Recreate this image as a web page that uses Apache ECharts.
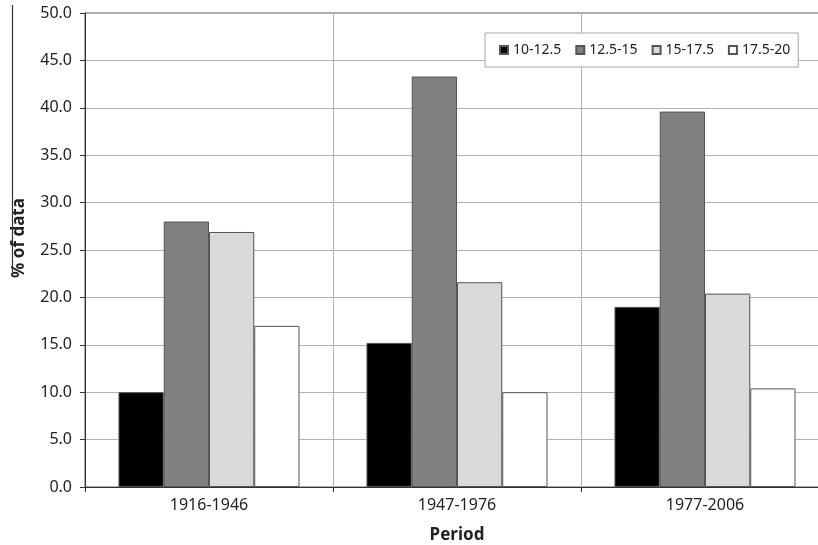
<!DOCTYPE html>
<html><head><meta charset="utf-8">
<script src="https://cdn.jsdelivr.net/npm/echarts@6/dist/echarts.min.js"></script>
<style>html,body{margin:0;padding:0;background:#fff;overflow:hidden}#c{width:818px;height:545px}</style>
</head><body><div id="c"></div>
<script>
const categories = ['1916-1946', '1947-1976', '1977-2006'];
const seriesNames = ['10-12.5', '12.5-15', '15-17.5', '17.5-20'];
const s1 = [10.0, 15.2, 19.0];
const s2 = [28.0, 43.3, 39.6];
const s3 = [26.9, 21.6, 20.4];
const s4 = [17.0, 10.0, 10.4];
const colors = ['#000000', '#808080', '#d9d9d9', '#ffffff'];
const FONT = 'Noto Sans';
const chart = echarts.init(document.getElementById('c'), null, { width: 818, height: 545 });
const values = [s1, s2, s3, s4];
chart.setOption({
  animation: false,
  textStyle: { fontFamily: FONT },
  grid: { left: 85, right: -11, top: 13, bottom: 58, show: true, borderColor: '#555', borderWidth: 1, containLabel: false, outerBoundsMode: 'none' },
  legend: {
    left: 485, top: 33, padding: [10, 8, 10, 14],
    backgroundColor: '#fff', borderColor: '#a6a6a6', borderWidth: 1,
    icon: 'rect', itemWidth: 8, itemHeight: 8, itemGap: 14,
    textStyle: { fontSize: 14, color: '#222', fontFamily: FONT },
    data: seriesNames
  },
  xAxis: {
    type: 'category', data: categories,
    name: 'Period', nameLocation: 'middle', nameGap: 40,
    nameTextStyle: { fontSize: 17, fontWeight: 'bold', color: '#222', fontFamily: FONT },
    axisLine: { lineStyle: { color: '#333', width: 1 } },
    axisTick: { show: true, length: 5, lineStyle: { color: '#333' } },
    axisLabel: { fontSize: 16, color: '#222', margin: 10, fontFamily: FONT },
    splitLine: { show: true, lineStyle: { color: '#b3b3b3', width: 1 } }
  },
  yAxis: {
    type: 'value', min: 0, max: 50, interval: 5,
    axisLine: { show: true, lineStyle: { color: '#333', width: 1 } },
    axisTick: { show: true, length: 5, lineStyle: { color: '#333' } },
    axisLabel: { fontSize: 16, color: '#222', margin: 13, fontFamily: FONT, formatter: v => v.toFixed(1) },
    splitLine: { show: true, lineStyle: { color: '#b3b3b3', width: 1 } }
  },
  graphic: [
    { type: 'text', x: 19, y: 238, rotation: Math.PI / 2,
      style: { text: '% of data', font: 'bold 17px "Noto Sans"', fill: '#222', align: 'center', verticalAlign: 'middle' } },
    { type: 'line', shape: { x1: 12.5, y1: 5, x2: 12.5, y2: 272 }, style: { stroke: '#333', lineWidth: 1.2 } }
  ],
  series: seriesNames.map((n, i) => ({
    name: n, type: 'bar', data: values[i],
    barGap: '0%', barCategoryGap: '27%',
    itemStyle: { color: colors[i], borderColor: '#555', borderWidth: 1 }
  }))
});
</script></body></html>
